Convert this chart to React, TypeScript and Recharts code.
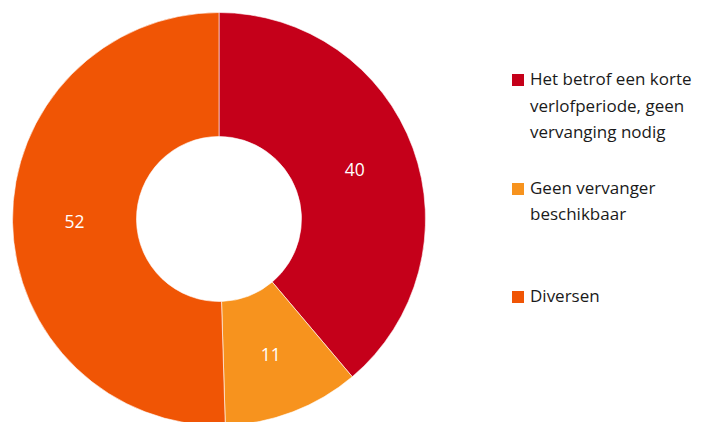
import { Cell, Pie, PieChart } from "recharts"

const categories = [
  "Het betrof een korte verlofperiode, geen vervanging nodig",
  "Geen vervanger beschikbaar",
  "Diversen",
]
const values = [40, 11, 52]
const legendLines = [
  ["Het betrof een korte", "verlofperiode, geen", "vervanging nodig"],
  ["Geen vervanger", "beschikbaar"],
  ["Diversen"],
]
const colors = ["#C5001A", "#F7931E", "#F05505"]

const data = categories.map((name, i) => ({ name, value: values[i] }))

const RAD = Math.PI / 180

const renderLabel = (props: any) => {
  const { cx, cy, midAngle, innerRadius, outerRadius, value } = props
  const r = (innerRadius + outerRadius) / 2
  const x = cx + r * Math.cos(-midAngle * RAD)
  const y = cy + r * Math.sin(-midAngle * RAD)
  return (
    <text
      x={x}
      y={y}
      fill="#fff"
      fontSize={17.5}
      fontFamily="Open Sans"
      textAnchor="middle"
      dominantBaseline="central"
    >
      {value}
    </text>
  )
}

const ChartLegend = () => (
  <div
    style={{
      position: "absolute",
      left: 512,
      top: 66,
      width: 197,
      fontFamily: "Open Sans",
      fontSize: 17,
      color: "#1a1a1a",
    }}
  >
    {legendLines.map((lines, i) => (
      <div
        key={i}
        style={{ display: "flex", alignItems: "flex-start", marginBottom: i === 0 ? 29 : 55 }}
      >
        <span
          style={{
            width: 12,
            height: 12,
            background: colors[i],
            marginTop: 8,
            marginRight: 6,
            flexShrink: 0,
          }}
        />
        <div style={{ lineHeight: "26.5px" }}>
          {lines.map((l) => (
            <div key={l} style={{ whiteSpace: "nowrap" }}>{l}</div>
          ))}
        </div>
      </div>
    ))}
  </div>
)

export default function App() {
  return (
    <div
      style={{ position: "absolute", left: 0, top: 0, width: 709, height: 422, background: "#fff" }}
    >
      <PieChart width={709} height={422} margin={{ top: 0, right: 0, bottom: 0, left: 0 }}>
        <Pie
          data={data}
          dataKey="value"
          cx={219}
          cy={219}
          innerRadius={82.5}
          outerRadius={206.5}
          startAngle={90}
          endAngle={-270}
          stroke="#fff"
          strokeWidth={0.6}
          label={renderLabel}
          labelLine={false}
          isAnimationActive={false}
        >
          {data.map((d, i) => (
            <Cell key={d.name} fill={colors[i]} />
          ))}
        </Pie>
      </PieChart>
      <ChartLegend />
    </div>
  )
}
